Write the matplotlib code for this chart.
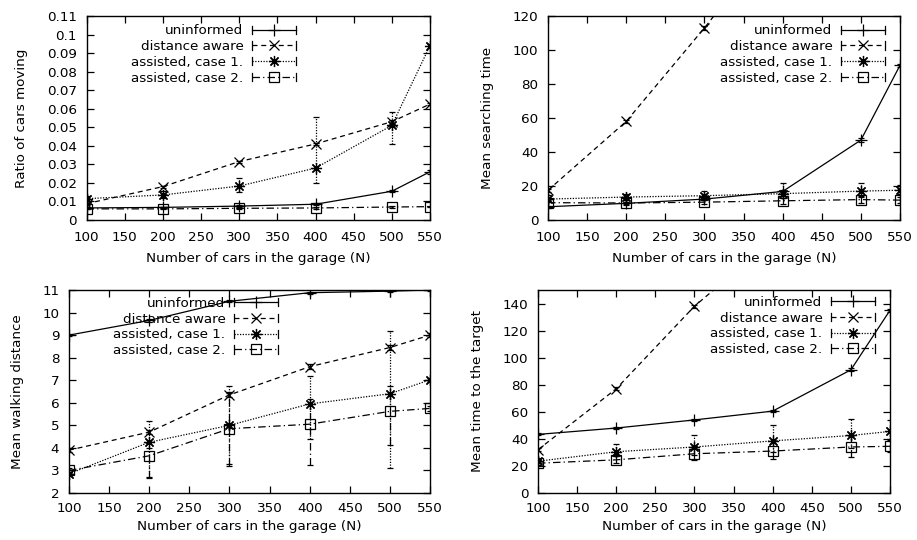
import matplotlib
matplotlib.use("Agg")
import matplotlib.pyplot as plt
from matplotlib.lines import Line2D
from matplotlib.legend_handler import HandlerBase
from matplotlib.ticker import FormatStrFormatter, MultipleLocator

plt.rcParams['font.family'] = ['DejaVu Sans']
FS = 9.7

N = [100, 200, 300, 400, 500, 550]
labels = ["uninformed", "distance aware", "assisted, case 1.", "assisted, case 2."]

# ---- Ratio of cars moving ----
ratio_val = [
    [0.0065, 0.0068, 0.0075, 0.0085, 0.0155, 0.026],
    [0.0088, 0.018, 0.0315, 0.041, 0.053, 0.0625],
    [0.0115, 0.0135, 0.0183, 0.028, 0.051, 0.094],
    [0.006, 0.006, 0.0063, 0.0065, 0.007, 0.0072],
]
ratio_lo = [
    [0.006, 0.0064, 0.007, 0.008, 0.015, 0.025],
    [0.0083, 0.0175, 0.031, 0.0405, 0.052, 0.062],
    [0.010, 0.012, 0.015, 0.020, 0.041, 0.093],
    [0.0057, 0.0057, 0.006, 0.0062, 0.0067, 0.0069],
]
ratio_hi = [
    [0.007, 0.0072, 0.008, 0.009, 0.016, 0.027],
    [0.0093, 0.0185, 0.032, 0.0415, 0.054, 0.063],
    [0.013, 0.0155, 0.0225, 0.0555, 0.0585, 0.095],
    [0.0063, 0.0063, 0.0066, 0.0068, 0.0073, 0.0075],
]

# ---- Mean searching time ----
search_val = [
    [7.8, 9.8, 12.3, 16.8, 47, 91],
    [17.5, 58, 113, 171, 240, 285],
    [12.3, 13.5, 14.3, 15.5, 17.0, 17.5],
    [10.2, 10.0, 10.5, 11.3, 12.0, 11.7],
]
search_lo = [
    [7.3, 9.3, 11.8, 16.0, 46, 90],
    [16.5, 57, 112, 170, 239, 284],
    [11.0, 12.0, 12.5, 13.0, 13.5, 15.5],
    [8.5, 8.8, 9.2, 9.5, 9.8, 10.0],
]
search_hi = [
    [8.3, 10.3, 12.8, 17.5, 48, 92],
    [18.5, 59, 114, 172, 241, 286],
    [15.0, 15.5, 17.0, 22.0, 22.0, 20.5],
    [11.5, 11.5, 12.0, 13.0, 14.0, 13.5],
]

# ---- Mean walking distance ----
walk_val = [
    [9.0, 9.65, 10.5, 10.88, 10.95, 11.0],
    [3.9, 4.7, 6.35, 7.6, 8.45, 9.0],
    [2.85, 4.25, 5.0, 5.95, 6.4, 7.02],
    [3.0, 3.65, 4.85, 5.05, 5.62, 5.75],
]
walk_lo = [
    [8.95, 9.6, 10.45, 10.83, 10.9, 10.95],
    [3.8, 4.6, 6.25, 7.5, 8.35, 8.9],
    [2.75, 2.7, 3.3, 4.4, 3.1, 6.9],
    [2.9, 2.65, 3.2, 3.25, 4.15, 5.65],
]
walk_hi = [
    [9.05, 9.7, 10.55, 10.93, 11.0, 11.05],
    [4.0, 4.8, 6.45, 7.7, 8.55, 9.1],
    [2.95, 5.2, 6.75, 7.2, 9.2, 7.12],
    [3.1, 4.0, 6.5, 6.15, 6.75, 5.85],
]

# ---- Mean time to the target ----
target_val = [
    [43.3, 48.0, 54.0, 60.5, 91.0, 135.0],
    [32.0, 77.0, 138.0, 187.0, 260.0, 300.0],
    [23.5, 30.5, 34.0, 38.5, 42.5, 45.5],
    [22.0, 24.5, 29.0, 31.0, 34.0, 34.5],
]
target_lo = [
    [42.5, 47.0, 53.0, 59.5, 90.0, 134.0],
    [31.0, 76.0, 137.0, 186.0, 259.0, 299.0],
    [22.0, 27.0, 28.0, 30.0, 33.0, 40.0],
    [20.5, 22.0, 24.5, 25.0, 26.5, 30.0],
]
target_hi = [
    [44.0, 49.0, 55.0, 61.5, 92.0, 136.0],
    [33.0, 78.0, 139.0, 188.0, 261.0, 301.0],
    [25.0, 36.0, 42.5, 50.0, 55.0, 54.0],
    [23.5, 27.0, 33.0, 37.0, 42.0, 39.0],
]

panels = [
    dict(val=ratio_val, lo=ratio_lo, hi=ratio_hi, ylim=(0, 0.11), ystep=0.01,
         ylabel="Ratio of cars moving", fmt="%g",
         rect=[86.5, 16, 430, 220], leg=(296, 24.5), xpad=8, xlp=6),
    dict(val=search_val, lo=search_lo, hi=search_hi, ylim=(0, 120), ystep=20,
         ylabel="Mean searching time", fmt="%g",
         rect=[548, 16, 900, 220], leg=(885, 24.5), xpad=8, xlp=6),
    dict(val=walk_val, lo=walk_lo, hi=walk_hi, ylim=(2, 11), ystep=1,
         ylabel="Mean walking distance", fmt="%g",
         rect=[69, 290, 430, 493], leg=(278, 297), xpad=6.5, xlp=3.5),
    dict(val=target_val, lo=target_lo, hi=target_hi, ylim=(0, 150), ystep=20,
         ylabel="Mean time to the target", fmt="%g",
         rect=[538, 290, 890, 493], leg=(875, 296), xpad=6.5, xlp=3.5),
]

styles = [
    dict(ls='-', marker='+', ms=8),
    dict(ls=(0, (4, 3)), marker='x', ms=7),
    dict(ls=(0, (1, 1.2)), marker=(8, 2, 0), ms=8),
    dict(ls=(0, (6, 2.5, 1, 2.5)), marker='s', ms=7),
]

W, H = 917, 540


class GnuHandler(HandlerBase):
    def create_artists(self, legend, orig_handle, xdescent, ydescent,
                       width, height, fontsize, trans):
        x0, x1 = -xdescent, -xdescent + width
        yc = -ydescent + height / 2.0
        line = Line2D([x0, x1], [yc, yc], color='black', lw=0.9)
        line.set_linestyle(orig_handle._gnu_ls)
        mk = Line2D([(x0 + x1) / 2], [yc], color='black', lw=0,
                    marker=orig_handle.get_marker(),
                    markersize=orig_handle.get_markersize(),
                    markerfacecolor='none', markeredgecolor='black',
                    markeredgewidth=0.9)
        h = 3.0
        c1 = Line2D([x0, x0], [yc - h, yc + h], color='black', lw=0.9)
        c2 = Line2D([x1, x1], [yc - h, yc + h], color='black', lw=0.9)
        arts = [line, mk, c1, c2]
        for a in arts:
            a.set_transform(trans)
        return arts


fig = plt.figure(figsize=(W / 100, H / 100), dpi=100)

for p in panels:
    l, t, r, b = p['rect']
    ax = fig.add_axes([l / W, 1 - b / H, (r - l) / W, (b - t) / H])
    handles = []
    for i in range(4):
        st = styles[i]
        v = p['val'][i]
        lo = [v[k] - p['lo'][i][k] for k in range(len(N))]
        hi = [p['hi'][i][k] - v[k] for k in range(len(N))]
        line, caps, bars = ax.errorbar(N, v, yerr=[lo, hi], color='black', lw=0.9,
                                       linestyle=st['ls'], marker=st['marker'],
                                       ms=st['ms'], mfc='none', mec='black',
                                       mew=0.9, capsize=2.5, elinewidth=0.9,
                                       capthick=0.9)
        for bc in bars:
            bc.set_linestyle(st['ls'])
        proxy = Line2D([], [], color='black', marker=st['marker'], ms=st['ms'])
        proxy._gnu_ls = st['ls']
        handles.append(proxy)

    ax.set_xlim(100, 550)
    ax.set_ylim(*p['ylim'])
    ax.xaxis.set_major_locator(MultipleLocator(50))
    ax.yaxis.set_major_locator(MultipleLocator(p['ystep']))
    ax.yaxis.set_major_formatter(FormatStrFormatter(p['fmt']))
    ax.tick_params(direction='in', length=5, width=0.9, top=True, right=True,
                   labelsize=FS)
    ax.tick_params(axis='x', pad=p['xpad'])
    ax.tick_params(axis='y', pad=7)
    for s in ax.spines.values():
        s.set_linewidth(1.0)
    ax.set_ylabel(p['ylabel'], fontsize=FS, labelpad=13.5)
    ax.set_xlabel("Number of cars in the garage (N)", fontsize=FS, labelpad=p['xlp'])

    lx, ly = p['leg']
    bx = (lx - l) / (r - l)
    by = 1 - (ly - t) / (b - t)
    ax.legend(handles, labels, loc='upper right', bbox_to_anchor=(bx, by),
              frameon=False, markerfirst=False, fontsize=FS,
              handlelength=3.3, handletextpad=0.6, labelspacing=0.2,
              borderpad=0, borderaxespad=0,
              handler_map={Line2D: GnuHandler()})

fig.savefig("out.png", dpi=100)
